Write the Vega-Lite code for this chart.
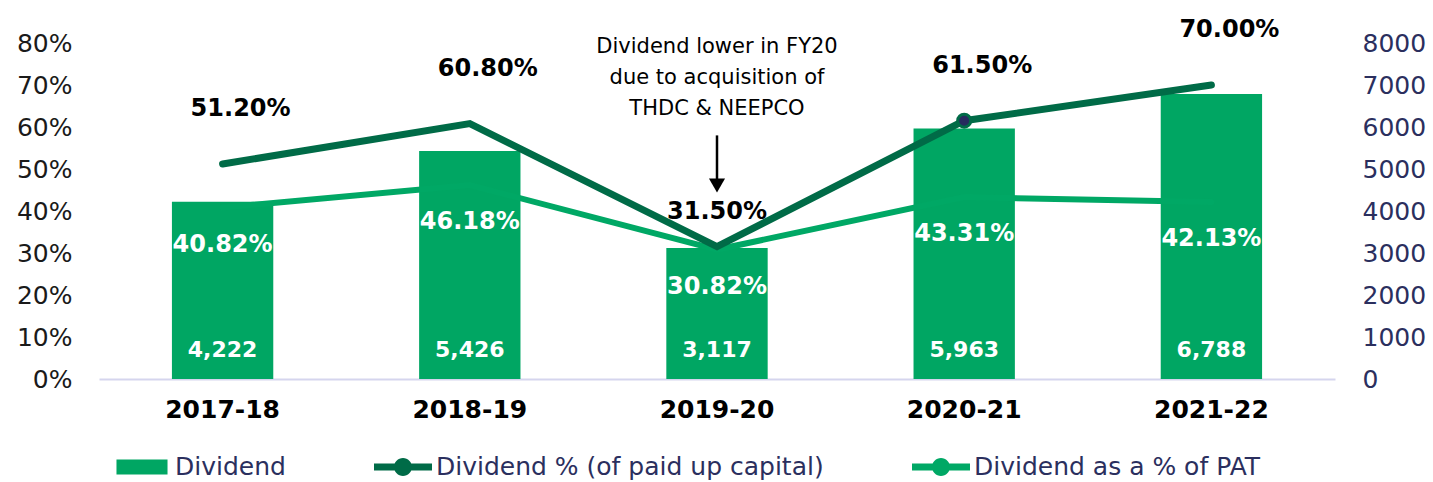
{
  "$schema": "https://vega.github.io/schema/vega-lite/v6.json",
  "width": 1236,
  "height": 336,
  "autosize": {"type": "none"},
  "padding": {"left": 99, "top": 43, "right": 98, "bottom": 103},
  "background": "white",
  "config": {"font": "DejaVu Sans", "view": {"stroke": null}, "axis": {"grid": false, "ticks": false}},
  "datasets": {
    "main": [
      {"year": "2017-18", "dividend": 4222, "div_pct": 0.512, "pat_pct": 0.4082},
      {"year": "2018-19", "dividend": 5426, "div_pct": 0.608, "pat_pct": 0.4618},
      {"year": "2019-20", "dividend": 3117, "div_pct": 0.315, "pat_pct": 0.3082},
      {"year": "2020-21", "dividend": 5963, "div_pct": 0.615, "pat_pct": 0.4331},
      {"year": "2021-22", "dividend": 6788, "div_pct": 0.70, "pat_pct": 0.4213}
    ],
    "note": [
      {"year": "2019-20", "text_y": 0.79, "arrow_top": 0.58, "arrow_bottom": 0.47, "head": 0.4607, "text": "Dividend lower in FY20\ndue to acquisition of\nTHDC & NEEPCO"}
    ]
  },
  "data": {"name": "main"},
  "encoding": {
    "x": {
      "field": "year", "type": "nominal", "sort": null,
      "scale": {"paddingInner": 0.59, "paddingOuter": 0.295},
      "axis": {"title": null, "labelAngle": 0, "labelFont": "DejaVu Sans", "labelFontWeight": "bold", "labelFontSize": 25, "labelColor": "#000000", "labelPadding": 18, "domainColor": "#d5d5ee", "domainWidth": 2, "ticks": false}
    }
  },
  "layer": [
    {
      "layer": [
        {
          "mark": {"type": "bar"},
          "encoding": {
            "y": {
              "field": "dividend", "type": "quantitative",
              "scale": {"domain": [0, 8000]},
              "axis": {"title": null, "orient": "right", "values": [0, 1000, 2000, 3000, 4000, 5000, 6000, 7000, 8000], "format": "d", "labelFontSize": 25, "labelColor": "#2b2f5e", "labelPadding": 27, "domain": false, "ticks": false, "grid": false}
            },
            "color": {
              "datum": "Dividend", "type": "nominal",
              "scale": {"domain": ["Dividend", "Dividend % (of paid up capital)", "Dividend as a % of PAT"], "range": ["#00a663", "#006b47", "#00a865"]},
              "legend": {
                "title": null, "orient": "none", "legendX": 14, "legendY": 395, "direction": "horizontal", "columns": 3,
                "symbolSize": 3364, "labelFontSize": 25, "labelColor": "#2b2f5e", "labelFont": "DejaVu Sans", "labelLimit": 1000, "labelBaseline": "middle",
                "columnPadding": 88, "labelOffset": 4, "padding": 0, "symbolStrokeWidth": 0,
                "encode": {
                  "symbols": {
                    "update": {
                      "shape": {"signal": "datum.value === 'Dividend' ? 'M-0.88,-0.26H0.88V0.26H-0.88Z' : 'M-1,-0.12H1V0.12H-1Z M0.31,0A0.31,0.31 0 1,1 -0.31,0A0.31,0.31 0 1,1 0.31,0Z'"},
                      "fill": {"signal": "scale('color', datum.value)"},
                      "stroke": {"value": "transparent"},
                      "opacity": {"value": 1}
                    }
                  }
                }
              }
            }
          }
        },
        {
          "mark": {"type": "text", "color": "white", "fontWeight": "bold", "fontSize": 22, "baseline": "middle", "dy": -29},
          "encoding": {
            "y": {"datum": 0, "type": "quantitative"},
            "text": {"field": "dividend", "type": "quantitative", "format": ","}
          }
        }
      ]
    },
    {
      "layer": [
        {
          "mark": {"type": "line", "color": "#00a865", "strokeWidth": 6, "strokeCap": "round"},
          "encoding": {
            "y": {
              "field": "pat_pct", "type": "quantitative",
              "scale": {"domain": [0, 0.8]},
              "axis": {"title": null, "orient": "left", "values": [0, 0.1, 0.2, 0.3, 0.4, 0.5, 0.6, 0.7, 0.8], "format": ".0%", "labelFontSize": 25, "labelColor": "#1a1a1a", "labelPadding": 27, "domain": false, "ticks": false, "grid": false}
            }
          }
        },
        {
          "mark": {"type": "line", "color": "#006b47", "strokeWidth": 7, "strokeCap": "round"},
          "encoding": {"y": {"field": "div_pct", "type": "quantitative"}}
        },
        {
          "transform": [{"filter": "datum.year === '2020-21'"}],
          "mark": {"type": "point", "filled": true, "fill": "#262a5e", "stroke": "#006b47", "strokeWidth": 3, "size": 170, "opacity": 1},
          "encoding": {"y": {"field": "div_pct", "type": "quantitative"}}
        },
        {
          "mark": {"type": "text", "color": "white", "fontWeight": "bold", "fontSize": 24, "baseline": "middle", "dy": 37},
          "encoding": {
            "y": {"field": "pat_pct", "type": "quantitative"},
            "text": {"field": "pat_pct", "type": "quantitative", "format": ".2%"}
          }
        },
        {
          "transform": [{"filter": "datum.year !== '2019-20'"}],
          "mark": {"type": "text", "color": "#000000", "fontWeight": "bold", "fontSize": 24, "baseline": "middle", "dy": -55, "dx": 18},
          "encoding": {
            "y": {"field": "div_pct", "type": "quantitative"},
            "text": {"field": "div_pct", "type": "quantitative", "format": ".2%"}
          }
        },
        {
          "transform": [{"filter": "datum.year === '2019-20'"}],
          "mark": {"type": "text", "color": "#000000", "fontWeight": "bold", "fontSize": 24, "baseline": "middle", "dy": -35},
          "encoding": {
            "y": {"field": "div_pct", "type": "quantitative"},
            "text": {"field": "div_pct", "type": "quantitative", "format": ".2%"}
          }
        },
        {
          "data": {"name": "note"},
          "mark": {"type": "rule", "color": "#000000", "strokeWidth": 2.5},
          "encoding": {
            "y": {"field": "arrow_top", "type": "quantitative"},
            "y2": {"field": "arrow_bottom"}
          }
        },
        {
          "data": {"name": "note"},
          "mark": {"type": "point", "shape": "triangle-down", "filled": true, "color": "#000000", "size": 260, "opacity": 1},
          "encoding": {"y": {"field": "head", "type": "quantitative"}}
        },
        {
          "data": {"name": "note"},
          "mark": {"type": "text", "color": "#000000", "fontSize": 21, "lineBreak": "\n", "lineHeight": 31, "baseline": "middle", "align": "center"},
          "encoding": {
            "y": {"field": "text_y", "type": "quantitative"},
            "text": {"field": "text", "type": "nominal"}
          }
        }
      ]
    }
  ],
  "resolve": {"scale": {"y": "independent"}}
}
